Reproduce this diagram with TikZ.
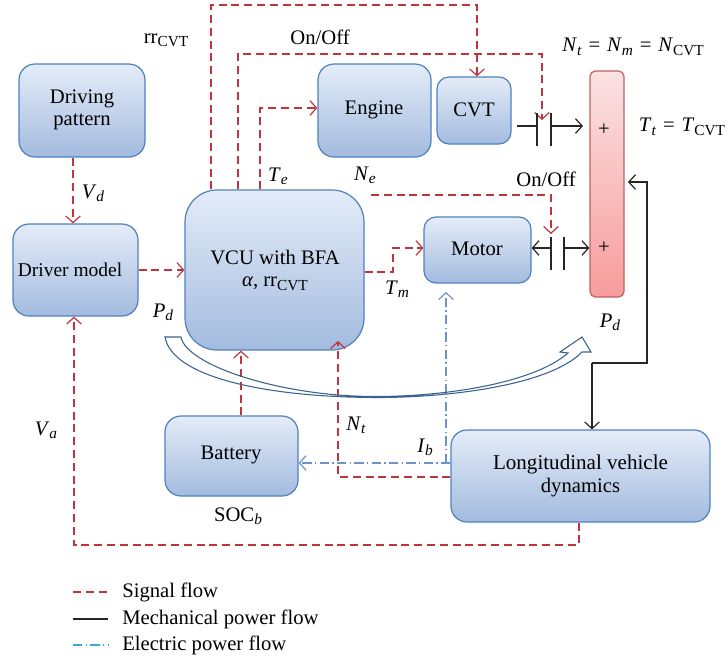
\documentclass[tikz,border=0pt]{standalone}
\usepackage{fontspec}
\setmainfont{Liberation Serif}
\usetikzlibrary{arrows.meta}
\definecolor{sigred}{HTML}{C0343C}
\definecolor{boxedge}{HTML}{4F81BD}
\definecolor{boxtop}{HTML}{E4ECF8}
\definecolor{boxbot}{HTML}{A3BBDF}
\definecolor{bartop}{HTML}{FBE2E4}
\definecolor{barbot}{HTML}{F79C9C}
\definecolor{baredge}{HTML}{C0605F}
\definecolor{elblue}{HTML}{6C94C8}
\definecolor{legblue}{HTML}{3FA9CF}
\definecolor{hollow}{HTML}{3A6291}
\newcommand{\subf}{\fontsize{11.5}{12}\selectfont}
\newcommand{\sv}[2]{\textit{#1}\raisebox{-0.35ex}{\subf\textit{#2}}}
\newcommand{\sr}[2]{#1\raisebox{-0.35ex}{\subf #2}}
\tikzset{
  x=0.75pt,y=-0.75pt,
  block/.style={draw=boxedge,line width=0.9pt,rounded corners=#1,top color=boxtop,bottom color=boxbot,font=\fontsize{15.5}{17}\selectfont,align=center},
  block/.default=12pt,
  sig/.style={draw=sigred,line width=0.9pt,dash pattern=on 6pt off 3.6pt},
  mech/.style={draw=black!85,line width=0.9pt},
  elec/.style={draw=elblue,line width=0.9pt,dash pattern=on 7pt off 2.5pt on 1pt off 2.5pt},
  opena/.style={-{Straight Barb[length=5pt,width=11pt,line width=0.9pt]}},
  lab/.style={font=\fontsize{15.5}{17}\selectfont,inner sep=0pt},
  leg/.style={font=\fontsize{15.5}{17}\selectfont,inner sep=0pt,anchor=west},
}
% box drawn first, its text placed separately so that it can sit where the reference prints it
\newcommand{\blockat}[7][12pt]{%
 \node[block=#1,minimum width=#4*0.75pt,minimum height=#5*0.75pt,inner sep=0pt] (#2) at (#3) {};
 \node[lab,align=center] (#2text) at (#6) {#7};}
\begin{document}
\begin{tikzpicture}
\useasboundingbox (0,0) rectangle (726,661);
% blocks
\blockat{drv}{82,110.5}{126}{93}{82,110}{\fontsize{15.5}{13.5}\selectfont Driving\\pattern}
\blockat{dm}{75.5,270}{125}{92}{70,270}{\fontsize{14.6}{16}\selectfont Driver model}
\blockat[24pt]{vcu}{274.5,270}{179}{160}{275,270}{VCU with BFA\\\textit{α}, \sr{rr}{CVT}}
\blockat{eng}{374.5,110.5}{113}{93}{374,110}{Engine}
\blockat[9pt]{cvt}{474,110.5}{74}{67}{474,110}{CVT}
\blockat[9pt]{mot}{477.5,250}{107}{66}{477,249}{Motor}
\blockat{bat}{231.5,456}{133}{80}{231,455}{Battery}
\blockat{lon}{580.5,476}{259}{92}{580.5,476}{\fontsize{15.8}{18.75}\selectfont Longitudinal vehicle\\dynamics}
\node[draw=baredge,line width=0.9pt,rounded corners=4pt,top color=bartop,bottom color=barbot,minimum width=34*0.75pt,minimum height=226*0.75pt,inner sep=0pt] (bar) at (607,184) {};
\node[lab] (p1) at (604,130) {+};
\node[lab] (p2) at (604,248) {+};
% coordinates
\coordinate (cA) at (517,126);
\coordinate (cB) at (537,126);
\coordinate (cC) at (551,126);
\coordinate (cBt) at (537,113); \coordinate (cBb) at (537,146);
\coordinate (cCt) at (551,113); \coordinate (cCb) at (551,146);
\coordinate (dA) at (551,248);
\coordinate (dB) at (564,248);
\coordinate (dAt) at (551,237); \coordinate (dAb) at (551,270);
\coordinate (dBt) at (564,237); \coordinate (dBb) at (564,270);
\coordinate (ne) at (371,195);
% signal
\draw[sig,opena] (drv.south -| 73,0) -- (dm.north -| 73,0);
\draw[sig,opena] (dm.east |- 0,270) -- (vcu.west |- 0,270);
\draw[sig,opena] (vcu.north -| 211,0) -- (211,5) -- (477,5) -- (cvt.north -| 477,0);
\draw[sig,opena] (vcu.north -| 238,0) -- (238,54) -- (542,54) -- (542,120);
\draw[sig,opena] (vcu.north -| 260,0) -- (260,108) -- (eng.west |- 0,108);
\draw[sig,opena] (vcu.east |- 0,272) -- (393,272) -- (393,248) -- (mot.west |- 0,248);
\draw[sig,opena] (ne) -- (551,195) -- (551,234);
\draw[sig,opena] (bat.north -| 241,0) -- (vcu.south -| 241,0);
\draw[sig,opena] (lon.west |- 0,477) -- (338,477) -- (338,341);
\draw[sig,opena] (lon.south -| 579,0) -- (579,545) -- (74,545) -- (dm.south -| 74,0);
% electric
\draw[elec,opena] (lon.west |- 0,463) -- (bat.east |- 0,463);
\draw[elec,opena] (446,463) -- (446,292);
% mechanical
\draw[mech] (cA) -- (cB);
\draw[mech] (cBt) -- (cBb);
\draw[mech] (cCt) -- (cCb);
\draw[mech,opena] (cC) -- (583,126);
\draw[mech,opena] (dA) -- (mot.east |- dA);
\draw[mech] (dAt) -- (dAb);
\draw[mech] (dBt) -- (dBb);
\draw[mech,opena] (dB) -- (bar.west |- dB);
\draw[mech,opena] (592,363) -- (lon.north -| 592,0);
\draw[mech,opena] (592,363) -- (647,363) -- (647,182) -- (628,182);
% big hollow arrow
\draw[draw=hollow,line width=0.8pt]
  (165,337) -- (181,337)
  .. controls (186,365) and (280,396.5) .. (375,396.5)
  .. controls (450,396.5) and (535,382) .. (568,353)
  -- (560,352) -- (582,337) -- (591,352) -- (582,352)
  .. controls (550,385) and (450,397.5) .. (378,397.5)
  .. controls (270,397.5) and (172,378) .. (165,337) -- cycle;
% labels
\node[lab] (l1) at (166,40) {\sr{rr}{CVT}};
\node[lab] (l2) at (320,37) {On/Off};
\node[lab] (l3) at (278,176) {\sv{T}{e}};
\node[lab] (l4) at (365,175) {\sv{N}{e}};
\node[lab] (l5) at (93,193) {\sv{V}{d}};
\node[lab] (l6) at (163,312) {\sv{P}{d}};
\node[lab] (l7) at (397,289) {\sv{T}{m}};
\node[lab] (l8) at (356,425) {\sv{N}{t}};
\node[lab] (l9) at (425,447) {\sv{I}{b}};
\node[lab] (l10) at (46,430) {\sv{V}{a}};
\node[lab] (l11) at (238,516) {\sr{SOC}{\textit{b}}};
\node[lab] (l12) at (546,179) {On/Off};
\node[lab] (l13) at (610,322) {\sv{P}{d}};
\node[lab] (l14) at (682,127) {\sv{T}{t}\,\,=\,\,\textit{T}\raisebox{-0.35ex}{\subf CVT}};
\node[lab] (l15) at (633,47) {\sv{N}{t}\,\,=\,\,\sv{N}{m}\,\,=\,\,\textit{N}\raisebox{-0.35ex}{\subf CVT}};
% legend
\coordinate (g1a) at (73,592); \coordinate (g1b) at (108,592);
\coordinate (g2a) at (73,619); \coordinate (g2b) at (108,619);
\coordinate (g3a) at (73,645); \coordinate (g3b) at (108,645);
\draw[sig] (g1a) -- (g1b);
\draw[mech] (g2a) -- (g2b);
\draw[elec,draw=legblue] (g3a) -- (g3b);
\node[leg] (t1) at (122,592) {Signal flow};
\node[leg] (t2) at (122,619) {Mechanical power flow};
\node[leg] (t3) at (122,645) {Electric power flow};
\end{tikzpicture}
\end{document}
